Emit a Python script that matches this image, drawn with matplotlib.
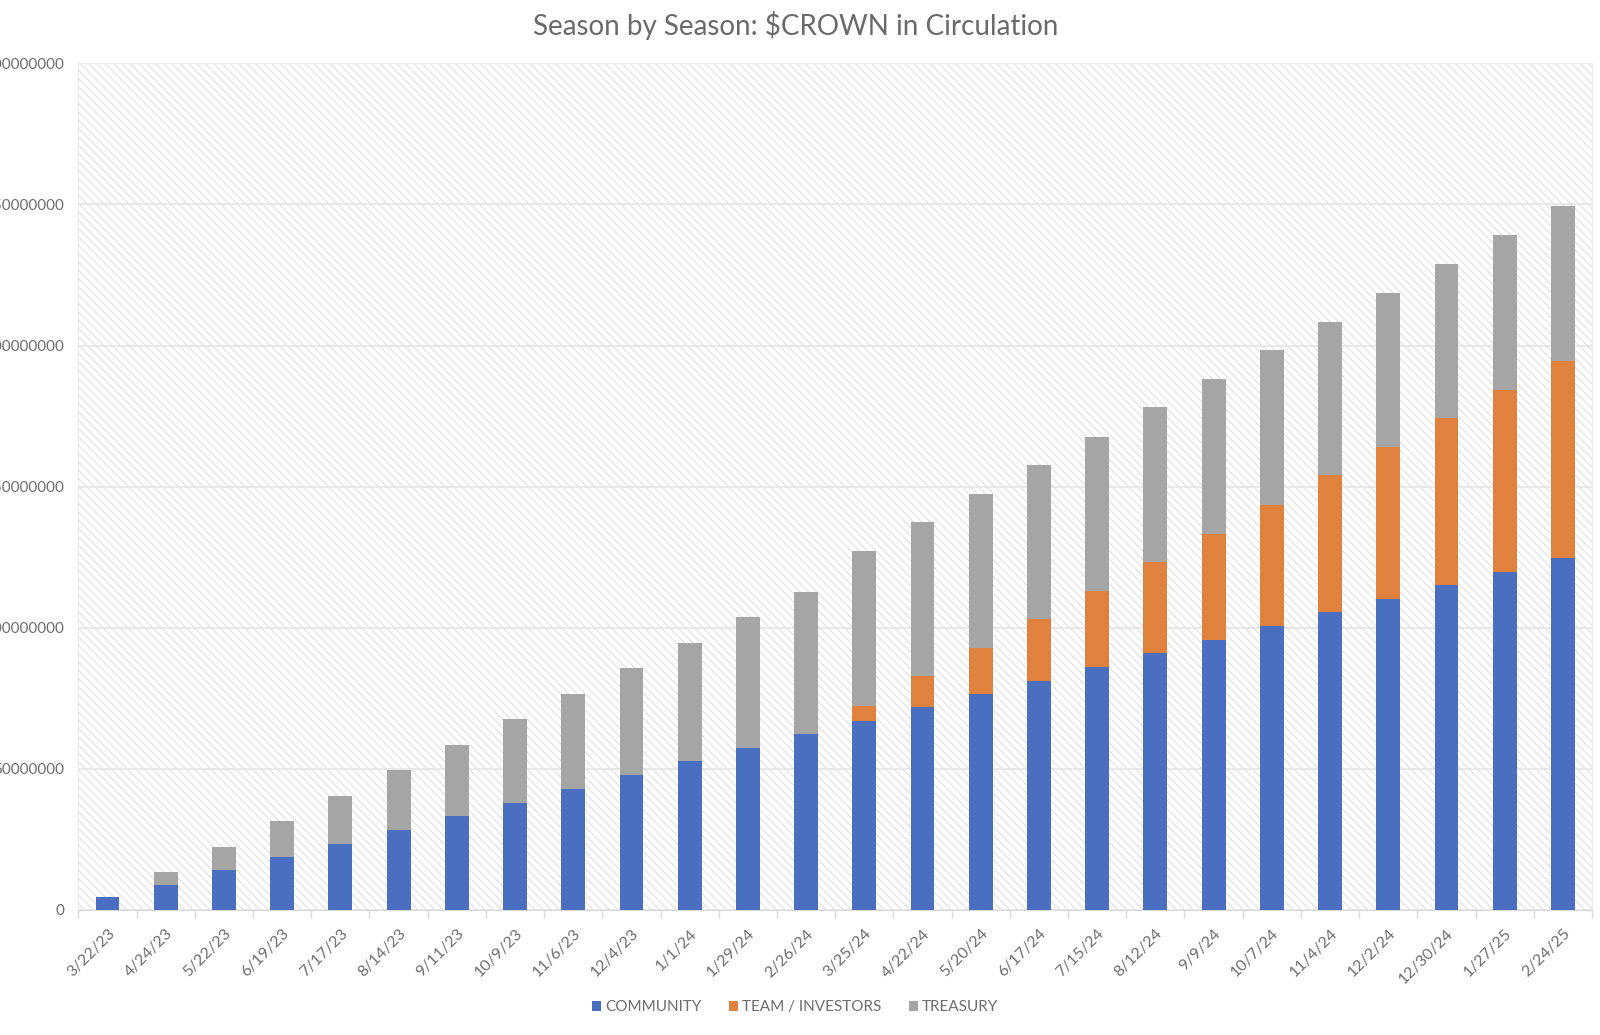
import matplotlib
matplotlib.use("Agg")
import matplotlib.pyplot as plt
from matplotlib.patches import Rectangle, Patch
import numpy as np

dates = ["3/22/23", "4/24/23", "5/22/23", "6/19/23", "7/17/23", "8/14/23", "9/11/23",
         "10/9/23", "11/6/23", "12/4/23", "1/1/24", "1/29/24", "2/26/24", "3/25/24",
         "4/22/24", "5/20/24", "6/17/24", "7/15/24", "8/12/24", "9/9/24", "10/7/24",
         "11/4/24", "12/2/24", "12/30/24", "1/27/25", "2/24/25"]

# values in millions of $CROWN
community = [4.5, 9.0, 14.1, 18.8, 23.5, 28.5, 33.2, 38.0, 43.0, 47.7, 52.8, 57.5, 62.2,
             66.9, 72.0, 76.6, 81.3, 86.0, 91.0, 95.8, 100.5, 105.5, 110.2, 115.3, 119.6, 124.7]
team = [0, 0, 0, 0, 0, 0, 0, 0, 0, 0, 0, 0, 0,
        5.4, 10.8, 16.3, 21.7, 27.1, 32.2, 37.6, 43.0, 48.5, 53.9, 58.9, 64.7, 69.7]
treasury = [0, 4.4, 8.3, 12.6, 17.0, 21.0, 25.3, 29.6, 33.6, 38.0, 41.9, 46.2, 50.6,
            54.9, 54.5, 54.6, 54.6, 54.6, 55.0, 54.9, 54.9, 54.5, 54.6, 54.6, 55.0, 55.0]
series_names = ["COMMUNITY", "TEAM / INVESTORS", "TREASURY"]
yticks = [0, 50000000, 100000000, 150000000, 200000000, 250000000, 300000000]

colors = ["#4A6FC0", "#E0823D", "#A5A5A5"]
UNIT = 1e6

plt.rcParams['font.family'] = ['Lato', 'DejaVu Sans']
plt.rcParams['hatch.color'] = '#e3e3e3'
plt.rcParams['hatch.linewidth'] = 0.9

fig = plt.figure(figsize=(16, 10.35), dpi=100)
ax = fig.add_axes([0.049, 0.1208, 0.946, 0.818])

x = np.arange(len(dates))
c = np.array(community) * UNIT
t = np.array(team) * UNIT
tr = np.array(treasury) * UNIT
w = 0.41
ax.bar(x, c, w, color=colors[0], zorder=3)
ax.bar(x, t, w, bottom=c, color=colors[1], zorder=3)
ax.bar(x, tr, w, bottom=c + t, color=colors[2], zorder=3)

# hatched background
ax.set_facecolor('white')
bg = Rectangle((0, 0), 1, 1, transform=ax.transAxes, facecolor='white',
               edgecolor='#e3e3e3', hatch='\\\\\\\\', linewidth=0, zorder=0)
ax.add_patch(bg)

ax.set_xlim(-0.5, len(dates) - 0.5)
ax.set_ylim(0, 300000000)
ax.set_yticks(yticks)
ax.set_yticklabels([str(v) for v in yticks])
ax.yaxis.grid(True, color='#e4e4e4', linewidth=1.2, zorder=1)
ax.set_axisbelow(True)
ax.tick_params(axis='y', length=0, pad=10, labelsize=11, labelcolor='#6e6e6e')

ax.set_xticks(x)
ax.set_xticklabels(dates, rotation=45, ha='right', rotation_mode='anchor')
ax.set_xticks(np.arange(-0.5, len(dates), 1), minor=True)
ax.tick_params(axis='x', which='major', length=0, pad=12, labelsize=11.5, labelcolor='#6e6e6e')
ax.tick_params(axis='x', which='minor', length=6, color='#d9d9d9', width=1)

for s in ['top', 'left', 'right']:
    ax.spines[s].set_color('#ececec')
ax.spines['bottom'].set_color('#d9d9d9')

fig.text(0.4975, 0.975, r"Season by Season: \$CROWN in Circulation", ha='center', va='center',
         fontsize=20, color='#6a6a6a')

handles = [Patch(facecolor=col, edgecolor='none') for col in colors]
fig.legend(handles, series_names, loc='center', bbox_to_anchor=(0.497, 0.027), ncol=3,
           frameon=False, fontsize=11, labelcolor='#6e6e6e', handlelength=0.6,
           handleheight=0.6, handletextpad=0.25, columnspacing=1.8)

fig.savefig("out.png", dpi=100)
